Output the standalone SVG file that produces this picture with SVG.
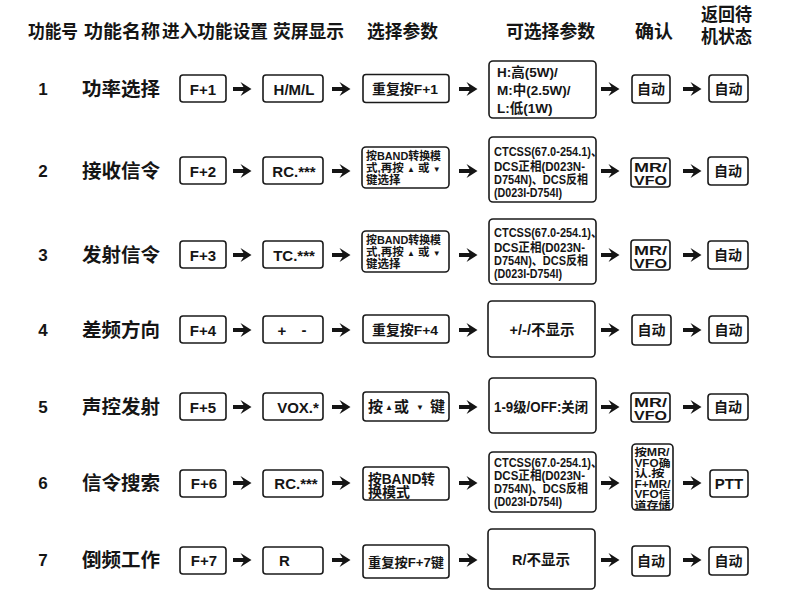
<svg xmlns="http://www.w3.org/2000/svg" xmlns:xlink="http://www.w3.org/1999/xlink" width="790" height="591" viewBox="0 0 790 591">
<style>
text{font-family:"Liberation Sans","Noto Sans CJK SC",sans-serif;font-weight:bold;fill:#151515}
.h{font-size:18px}
.n{font-size:17px;text-anchor:middle}
.nm{font-size:19px}
.k{font-size:15px;text-anchor:middle}
.c{text-anchor:middle}
.s{font-size:12.5px}
.m{font-size:11.5px}
.tri{font-size:8px}
.v{font-size:10.5px}
.mv{font-size:13px;text-anchor:middle}
rect{fill:#fff;stroke:#1a1a1a;stroke-width:1.6}
.a{fill:#151515}
</style>
<defs>
<path id="arr" class="a" d="M0,-2 H10.5 L7.5,-7 L18.5,0 L7.5,7 L10.5,2 H0 Z"/>
</defs>
<rect x="0" y="0" width="790" height="591" style="fill:#fff;stroke:none"/>
<g id="header">
<text class="h" x="28" y="38" textLength="50" lengthAdjust="spacingAndGlyphs">功能号</text>
<text class="h" x="84" y="38" textLength="76" lengthAdjust="spacingAndGlyphs">功能名称</text>
<text class="h" x="162" y="38" textLength="106" lengthAdjust="spacingAndGlyphs">进入功能设置</text>
<text class="h" x="273" y="38" textLength="71" lengthAdjust="spacingAndGlyphs">荧屏显示</text>
<text class="h" x="367" y="38" textLength="71" lengthAdjust="spacingAndGlyphs">选择参数</text>
<text class="h" x="506" y="38" textLength="89" lengthAdjust="spacingAndGlyphs">可选择参数</text>
<text class="h" x="635" y="38" textLength="38" lengthAdjust="spacingAndGlyphs">确认</text>
<text class="h" x="701" y="21" textLength="51" lengthAdjust="spacingAndGlyphs">返回待</text>
<text class="h" x="701" y="43" textLength="51" lengthAdjust="spacingAndGlyphs">机状态</text>
</g>

<!-- Row 1 -->
<g id="r1-num" transform="translate(0,89)"><text class="n" x="43" y="6">1</text></g>
<g id="r1-name" transform="translate(0,89)"><text class="nm" x="82" y="7" textLength="78" lengthAdjust="spacingAndGlyphs">功率选择</text></g>
<g id="r1-key" transform="translate(0,89)"><rect x="180" y="-14" width="46" height="27" rx="3"/><text class="k" x="203" y="5.5">F+1</text></g>
<g id="r1-disp" transform="translate(0,89)"><rect x="263" y="-14" width="60" height="27" rx="3"/><text class="k" x="294" y="5.5">H/M/L</text></g>
<g id="r1-sel" transform="translate(0,89)"><rect x="363" y="-14.5" width="86" height="28" rx="3"/><text class="c" x="405" y="5" style="font-size:13.5px" textLength="66" lengthAdjust="spacingAndGlyphs">重复按F+1</text></g>
<g id="r1-opt" transform="translate(0,89)"><rect x="489" y="-28" width="107" height="57" rx="4"/>
<text x="497" y="-12" style="font-size:13.5px">H:高(5W)/</text>
<text x="497" y="6" style="font-size:13.5px">M:中(2.5W)/</text>
<text x="497" y="24" style="font-size:13.5px">L:低(1W)</text></g>
<g id="r1-ok" transform="translate(0,89)"><rect x="632" y="-14" width="38" height="28" rx="3"/><text class="c" x="651" y="5" style="font-size:14px">自动</text></g>
<g id="r1-ret" transform="translate(0,89)"><rect x="709" y="-14" width="39" height="27" rx="3"/><text class="c" x="728.5" y="5" style="font-size:14px">自动</text></g>

<!-- Row 2 -->
<g id="r2-num" transform="translate(0,171)"><text class="n" x="43" y="6">2</text></g>
<g id="r2-name" transform="translate(0,171)"><text class="nm" x="82" y="7" textLength="78" lengthAdjust="spacingAndGlyphs">接收信令</text></g>
<g id="r2-key" transform="translate(0,171)"><rect x="180" y="-14" width="46" height="27" rx="3"/><text class="k" x="203" y="5.5">F+2</text></g>
<g id="r2-disp" transform="translate(0,171)"><rect x="263" y="-14" width="60" height="27" rx="3"/><text class="k" x="294" y="5.5">RC.***</text></g>
<g id="r2-sel" transform="translate(0,171)"><rect x="362" y="-24" width="87" height="41" rx="4"/>
<text class="m" x="366" y="-11" textLength="75" lengthAdjust="spacingAndGlyphs">按BAND转换模</text>
<text class="m" x="366" y="1">式,再按 <tspan class="tri">▲</tspan> 或 <tspan class="tri">▼</tspan></text>
<text class="m" x="366" y="13">键选择</text></g>
<g id="r2-opt" transform="translate(0,171)"><rect x="489" y="-34" width="107" height="65" rx="4"/>
<text class="s" x="494" y="-15" textLength="108" lengthAdjust="spacingAndGlyphs">CTCSS(67.0-254.1)、</text>
<text class="s" x="494" y="0" textLength="91" lengthAdjust="spacingAndGlyphs">DCS正相(D023N-</text>
<text class="s" x="494" y="13" textLength="94" lengthAdjust="spacingAndGlyphs">D754N)、DCS反相</text>
<text class="s" x="494" y="26" textLength="68" lengthAdjust="spacingAndGlyphs">(D023I-D754I)</text></g>
<g id="r2-ok" transform="translate(0,171)"><rect x="631" y="-13" width="39" height="29" rx="3"/>
<text class="mv" x="650.5" y="1" textLength="33" lengthAdjust="spacingAndGlyphs">MR/</text>
<text class="mv" x="650.5" y="14" textLength="33" lengthAdjust="spacingAndGlyphs">VFO</text></g>
<g id="r2-ret" transform="translate(0,171)"><rect x="708" y="-14" width="40" height="28" rx="3"/><text class="c" x="728" y="5" style="font-size:14px">自动</text></g>

<!-- Row 3 -->
<g id="r3-num" transform="translate(0,255)"><text class="n" x="43" y="6">3</text></g>
<g id="r3-name" transform="translate(0,255)"><text class="nm" x="82" y="7" textLength="78" lengthAdjust="spacingAndGlyphs">发射信令</text></g>
<g id="r3-key" transform="translate(0,255)"><rect x="180" y="-14" width="46" height="27" rx="3"/><text class="k" x="203" y="5.5">F+3</text></g>
<g id="r3-disp" transform="translate(0,255)"><rect x="263" y="-14" width="60" height="27" rx="3"/><text class="k" x="294" y="5.5">TC.***</text></g>
<g id="r3-sel" transform="translate(0,255)"><rect x="362" y="-24" width="87" height="41" rx="4"/>
<text class="m" x="366" y="-11" textLength="75" lengthAdjust="spacingAndGlyphs">按BAND转换模</text>
<text class="m" x="366" y="1">式,再按 <tspan class="tri">▲</tspan> 或 <tspan class="tri">▼</tspan></text>
<text class="m" x="366" y="13">键选择</text></g>
<g id="r3-opt" transform="translate(0,255)"><rect x="489" y="-36" width="107" height="65" rx="4"/>
<text class="s" x="494" y="-18" textLength="108" lengthAdjust="spacingAndGlyphs">CTCSS(67.0-254.1)、</text>
<text class="s" x="494" y="-3" textLength="91" lengthAdjust="spacingAndGlyphs">DCS正相(D023N-</text>
<text class="s" x="494" y="10" textLength="94" lengthAdjust="spacingAndGlyphs">D754N)、DCS反相</text>
<text class="s" x="494" y="23" textLength="68" lengthAdjust="spacingAndGlyphs">(D023I-D754I)</text></g>
<g id="r3-ok" transform="translate(0,255)"><rect x="631" y="-15" width="39" height="30" rx="3"/>
<text class="mv" x="650.5" y="0" textLength="33" lengthAdjust="spacingAndGlyphs">MR/</text>
<text class="mv" x="650.5" y="13" textLength="33" lengthAdjust="spacingAndGlyphs">VFO</text></g>
<g id="r3-ret" transform="translate(0,255)"><rect x="708" y="-14" width="40" height="28" rx="3"/><text class="c" x="728" y="5" style="font-size:14px">自动</text></g>

<!-- Row 4 -->
<g id="r4-num" transform="translate(0,330)"><text class="n" x="43" y="6">4</text></g>
<g id="r4-name" transform="translate(0,330)"><text class="nm" x="82" y="7" textLength="78" lengthAdjust="spacingAndGlyphs">差频方向</text></g>
<g id="r4-key" transform="translate(0,330)"><rect x="180" y="-14" width="46" height="27" rx="3"/><text class="k" x="203" y="5.5">F+4</text></g>
<g id="r4-disp" transform="translate(0,330)"><rect x="263" y="-14" width="60" height="27" rx="3"/><text class="k" x="282" y="5.5">+</text><text class="k" x="304" y="5">-</text></g>
<g id="r4-sel" transform="translate(0,330)"><rect x="363" y="-15" width="86" height="28" rx="3"/><text class="c" x="405" y="5" style="font-size:13.5px" textLength="66" lengthAdjust="spacingAndGlyphs">重复按F+4</text></g>
<g id="r4-opt" transform="translate(0,330)"><rect x="488" y="-29" width="107" height="56" rx="4"/><text class="c" x="542" y="5" style="font-size:14.5px">+/-/不显示</text></g>
<g id="r4-ok" transform="translate(0,330)"><rect x="632" y="-15" width="39" height="30" rx="3"/><text class="c" x="651.5" y="5" style="font-size:14px">自动</text></g>
<g id="r4-ret" transform="translate(0,330)"><rect x="709" y="-14" width="39" height="27" rx="3"/><text class="c" x="728.5" y="5" style="font-size:14px">自动</text></g>

<!-- Row 5 -->
<g id="r5-num" transform="translate(0,407)"><text class="n" x="43" y="6">5</text></g>
<g id="r5-name" transform="translate(0,407)"><text class="nm" x="82" y="7" textLength="78" lengthAdjust="spacingAndGlyphs">声控发射</text></g>
<g id="r5-key" transform="translate(0,407)"><rect x="180" y="-14" width="46" height="27" rx="3"/><text class="k" x="203" y="5.5">F+5</text></g>
<g id="r5-disp" transform="translate(0,407)"><rect x="263" y="-14" width="60" height="27" rx="3"/><text class="k" x="298" y="5.5">VOX.*</text></g>
<g id="r5-sel" transform="translate(0,407)"><rect x="363" y="-15" width="86" height="29" rx="3"/>
<text x="368" y="5" style="font-size:15px">按</text><text class="tri" x="385" y="3">▲</text>
<text x="394" y="5" style="font-size:15px">或</text><text class="tri" x="416" y="3">▼</text>
<text x="430" y="5" style="font-size:15px">键</text></g>
<g id="r5-opt" transform="translate(0,407)"><rect x="489" y="-29" width="107" height="55" rx="4"/><text class="c" x="541" y="5" style="font-size:14px" textLength="94" lengthAdjust="spacingAndGlyphs">1-9级/OFF:关闭</text></g>
<g id="r5-ok" transform="translate(0,407)"><rect x="631" y="-14" width="39" height="29" rx="3"/>
<text class="mv" x="650.5" y="0" textLength="33" lengthAdjust="spacingAndGlyphs">MR/</text>
<text class="mv" x="650.5" y="13" textLength="33" lengthAdjust="spacingAndGlyphs">VFO</text></g>
<g id="r5-ret" transform="translate(0,407)"><rect x="708" y="-13" width="40" height="26" rx="3"/><text class="c" x="728" y="5" style="font-size:14px">自动</text></g>

<!-- Row 6 -->
<g id="r6-num" transform="translate(0,483)"><text class="n" x="43" y="6">6</text></g>
<g id="r6-name" transform="translate(0,483)"><text class="nm" x="82" y="7" textLength="78" lengthAdjust="spacingAndGlyphs">信令搜索</text></g>
<g id="r6-key" transform="translate(0,483)"><rect x="180" y="-13" width="46" height="27" rx="3"/><text class="k" x="204" y="6">F+6</text></g>
<g id="r6-disp" transform="translate(0,483)"><rect x="263" y="-13" width="60" height="27" rx="3"/><text class="k" x="296" y="6">RC.***</text></g>
<g id="r6-sel" transform="translate(0,483)"><rect x="363" y="-16" width="86" height="33" rx="3"/>
<text x="368" y="1" style="font-size:14px" textLength="67" lengthAdjust="spacingAndGlyphs">按BAND转</text>
<text x="368" y="14" style="font-size:14px">换模式</text></g>
<g id="r6-opt" transform="translate(0,483)"><rect x="489" y="-31" width="107" height="60" rx="4"/>
<text class="s" x="494" y="-16" textLength="108" lengthAdjust="spacingAndGlyphs">CTCSS(67.0-254.1)、</text>
<text class="s" x="494" y="-3" textLength="91" lengthAdjust="spacingAndGlyphs">DCS正相(D023N-</text>
<text class="s" x="494" y="10" textLength="94" lengthAdjust="spacingAndGlyphs">D754N)、DCS反相</text>
<text class="s" x="494" y="23" textLength="68" lengthAdjust="spacingAndGlyphs">(D023I-D754I)</text></g>
<g id="r6-ok" transform="translate(0,483)"><rect x="632" y="-39" width="41" height="66" rx="4"/>
<text class="v" x="634.5" y="-27" textLength="35" lengthAdjust="spacingAndGlyphs">按MR/</text>
<text class="v" x="634.5" y="-16.5" textLength="36" lengthAdjust="spacingAndGlyphs">VFO确</text>
<text class="v" x="634.5" y="-6" textLength="30" lengthAdjust="spacingAndGlyphs">认.按</text>
<text class="v" x="634.5" y="4.5" textLength="36" lengthAdjust="spacingAndGlyphs">F+MR/</text>
<text class="v" x="634.5" y="15" textLength="36" lengthAdjust="spacingAndGlyphs">VFO信</text>
<text class="v" x="634.5" y="25.5" textLength="36" lengthAdjust="spacingAndGlyphs">道存储</text></g>
<g id="r6-ret" transform="translate(0,483)"><rect x="710" y="-13" width="38" height="27" rx="3"/><text class="c" x="729" y="6" style="font-size:15px">PTT</text></g>

<!-- Row 7 -->
<g id="r7-num" transform="translate(0,560)"><text class="n" x="43" y="6">7</text></g>
<g id="r7-name" transform="translate(0,560)"><text class="nm" x="82" y="7" textLength="78" lengthAdjust="spacingAndGlyphs">倒频工作</text></g>
<g id="r7-key" transform="translate(0,560)"><rect x="180" y="-13" width="46" height="27" rx="3"/><text class="k" x="204" y="6">F+7</text></g>
<g id="r7-disp" transform="translate(0,560)"><rect x="263" y="-13" width="60" height="27" rx="3"/><text x="279" y="6" style="font-size:15px">R</text></g>
<g id="r7-sel" transform="translate(0,560)"><rect x="363" y="-15" width="86" height="33" rx="3"/><text class="c" x="406" y="6.5" style="font-size:13px" textLength="76" lengthAdjust="spacingAndGlyphs">重复按F+7键</text></g>
<g id="r7-opt" transform="translate(0,560)"><rect x="488" y="-31" width="107" height="60" rx="4"/><text class="c" x="541" y="5" style="font-size:14.5px">R/不显示</text></g>
<g id="r7-ok" transform="translate(0,560)"><rect x="632" y="-14" width="38" height="30" rx="3"/><text class="c" x="651" y="6" style="font-size:14px">自动</text></g>
<g id="r7-ret" transform="translate(0,560)"><rect x="709" y="-13" width="39" height="28" rx="3"/><text class="c" x="728.5" y="6" style="font-size:14px">自动</text></g>

<g id="connectors">
<use xlink:href="#arr" x="233" y="89"/><use xlink:href="#arr" x="332" y="89"/><use xlink:href="#arr" x="459" y="89"/><use xlink:href="#arr" x="601" y="89"/><use xlink:href="#arr" x="683" y="89"/>
<use xlink:href="#arr" x="233" y="171"/><use xlink:href="#arr" x="332" y="171"/><use xlink:href="#arr" x="459" y="171"/><use xlink:href="#arr" x="601" y="171"/><use xlink:href="#arr" x="683" y="171"/>
<use xlink:href="#arr" x="233" y="255"/><use xlink:href="#arr" x="332" y="255"/><use xlink:href="#arr" x="459" y="255"/><use xlink:href="#arr" x="601" y="255"/><use xlink:href="#arr" x="683" y="255"/>
<use xlink:href="#arr" x="233" y="330"/><use xlink:href="#arr" x="332" y="330"/><use xlink:href="#arr" x="459" y="330"/><use xlink:href="#arr" x="601" y="330"/><use xlink:href="#arr" x="683" y="330"/>
<use xlink:href="#arr" x="233" y="407"/><use xlink:href="#arr" x="332" y="407"/><use xlink:href="#arr" x="459" y="407"/><use xlink:href="#arr" x="601" y="407"/><use xlink:href="#arr" x="683" y="407"/>
<use xlink:href="#arr" x="233" y="483"/><use xlink:href="#arr" x="332" y="483"/><use xlink:href="#arr" x="459" y="483"/><use xlink:href="#arr" x="601" y="483"/><use xlink:href="#arr" x="683" y="483"/>
<use xlink:href="#arr" x="233" y="560"/><use xlink:href="#arr" x="332" y="560"/><use xlink:href="#arr" x="459" y="560"/><use xlink:href="#arr" x="601" y="560"/><use xlink:href="#arr" x="683" y="560"/>
</g>
</svg>
